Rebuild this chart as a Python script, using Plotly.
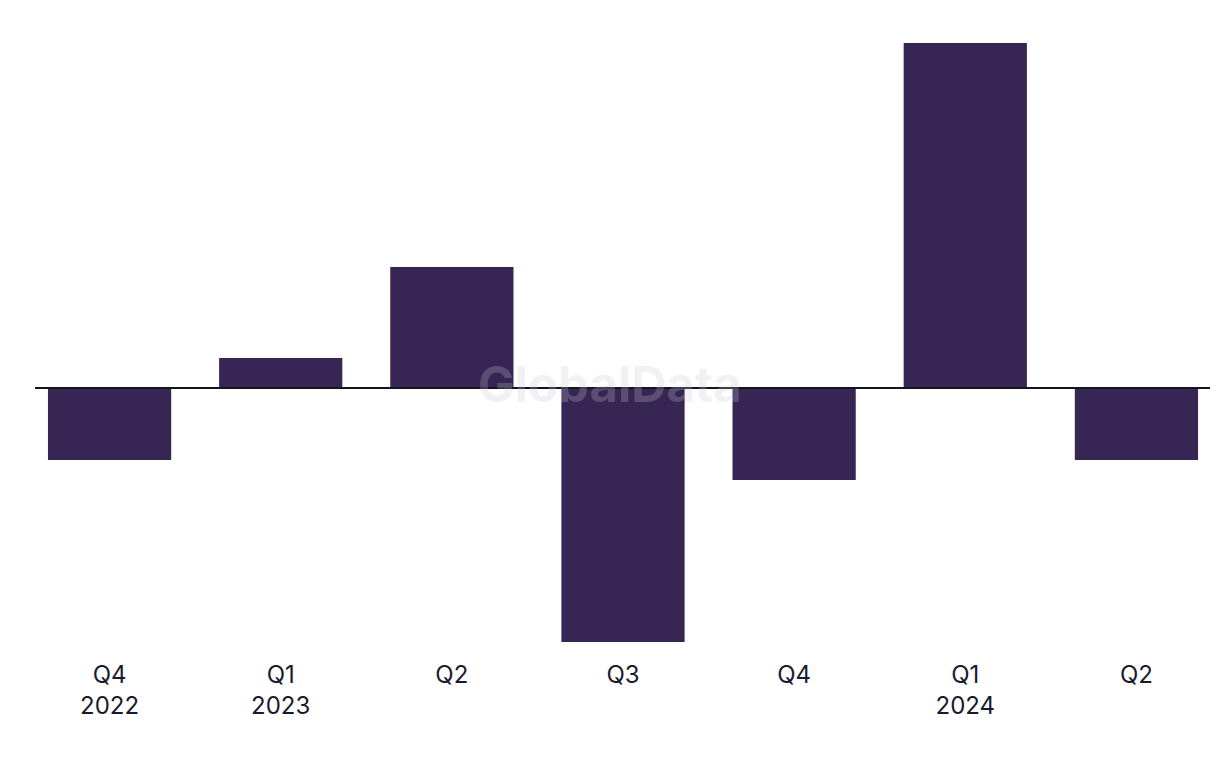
import plotly.graph_objects as go

categories = ["Q4<br>2022", "Q1<br>2023", "Q2", "Q3", "Q4", "Q1<br>2024", "Q2"]
category_ids = ["Q4 2022", "Q1 2023", "Q2 2023", "Q3 2023", "Q4 2023", "Q1 2024", "Q2 2024"]
values = [-3.6, 1.5, 6.05, -12.7, -4.6, 17.25, -3.6]

fig = go.Figure()
fig.add_trace(go.Bar(
    x=category_ids, y=values,
    marker=dict(color="#372554", line=dict(width=0)),
    width=0.72,
    hoverinfo="x+y",
))

fig.add_shape(type="line", xref="paper", yref="y", x0=(35 - 24) / 1198, x1=(1210 - 24) / 1198,
              y0=0, y1=0, line=dict(color="#14141f", width=2), layer="above")

fig.add_annotation(text="<b>GlobalData</b>", xref="paper", yref="y",
                   x=(610 - 24) / 1198, y=0.2, showarrow=False,
                   font=dict(family="Inter, Liberation Sans, sans-serif", size=49,
                             color="rgba(200,200,210,0.25)"))

fig.update_layout(
    width=1220, height=768,
    margin=dict(l=16, r=6, t=13, b=118),
    plot_bgcolor="white", paper_bgcolor="white",
    showlegend=False,
    bargap=0.28,
    xaxis=dict(tickmode="array", tickvals=category_ids, ticktext=categories,
               showgrid=False, zeroline=False, showline=False, ticks="",
               tickfont=dict(family="Inter, Liberation Sans, sans-serif", size=24, color="#1a1a2e"),
               fixedrange=True),
    yaxis=dict(range=[-13.5, 18.35], visible=False, showgrid=False, zeroline=False,
               fixedrange=True),
)

fig.write_html("out.html")
